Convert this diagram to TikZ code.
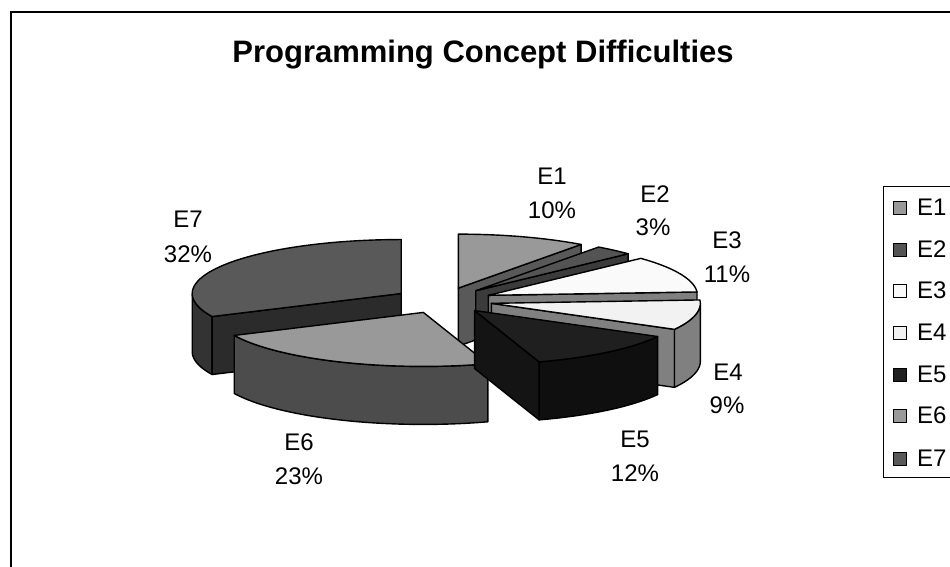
\documentclass[tikz,border=0pt]{standalone}
\usepackage{fontspec}
\setmainfont{Liberation Sans}
\newcommand{\pieCenter}[1]{%
  \pgfmathsetmacro\psx{\pcx+\pex*cos(#1)}%
  \pgfmathsetmacro\psy{\pcy-\pey*sin(#1)}}
\newcommand{\pieTop}[3]{%
  \draw[pieedge,fill=#3] (\psx,\psy) -- plot[domain=#1:#2,samples=60] ({\psx+\pra*cos(\x)},{\psy-\prb*sin(\x)}) -- cycle;}
\newcommand{\pieSide}[3]{%
  \draw[pieedge,fill=#3] plot[domain=#1:#2,samples=60] ({\psx+\pra*cos(\x)},{\psy-\prb*sin(\x)}) -- plot[domain=#2:#1,samples=60] ({\psx+\pra*cos(\x)},{\psy+\phh-\prb*sin(\x)}) -- cycle;}
\newcommand{\pieCut}[2]{%
  \draw[pieedge,fill=#2] (\psx,\psy) -- ({\psx+\pra*cos(#1)},{\psy-\prb*sin(#1)}) -- ++(0,\phh) -- (\psx,{\psy+\phh}) -- cycle;}
\begin{document}
\begin{tikzpicture}[x=1pt,y=-1pt]
\tikzset{
  pieedge/.style={draw=black,line width=1.4pt,line join=round},
  lbl/.style={font=\fontsize{24}{28}\selectfont,anchor=base,inner sep=0pt},
  legsq/.style={draw=black,line width=1.1pt,minimum size=13pt,inner sep=0pt,anchor=south west},
  legtxt/.style={font=\fontsize{24}{28}\selectfont,anchor=base west,inner sep=0pt}
}
\useasboundingbox (0,0) rectangle (950,567);
\fill[white] (0,0) rectangle (950,567);
% outer frame
\draw[line width=2pt] (960,12) -- (11,12) -- (11,580);
% title
\node[font=\fontsize{31}{37}\selectfont\bfseries,anchor=base,inner sep=0pt] (title) at (483,63) {Programming Concept Difficulties};
% pie parameters
\pgfmathsetmacro\pcx{443}
\pgfmathsetmacro\pcy{300.5}
\pgfmathsetmacro\pra{209}
\pgfmathsetmacro\prb{54}
\pgfmathsetmacro\phh{58}
\pgfmathsetmacro\pex{49.5}
\pgfmathsetmacro\pey{13}
% E7
\pieCenter{147.6}
\pieSide{180}{205.2}{black!80}
\pieCut{205.2}{black!83}
\pieTop{90}{205.2}{black!65}
% E1
\pieCenter{72}
\pieCut{54}{black!65}
\pieTop{54}{90}{black!40}
% E2
\pieCenter{48.6}
\pieCut{43.2}{black!77}
\pieTop{43.2}{54}{black!67}
% E3
\pieCenter{23.4}
\pieCut{3.6}{black!50}
\pieTop{3.6}{43.2}{black!2}
% E4
\pieCenter{-12.6}
\pieCut{-28.8}{black!50}
\pieSide{-28.8}{0}{black!50}
\pieTop{-28.8}{3.6}{black!5}
% E6
\pieCenter{-113.4}
\pieSide{-154.8}{-72}{black!70}
\pieTop{-154.8}{-72}{black!40}
% E5
\pieCenter{-50.4}
\pieSide{-72}{-28.8}{black!94}
\pieCut{-72}{black!92}
\pieTop{-72}{-28.8}{black!88}
% data labels
\node[lbl] (l1a) at (552,184) {E1};
\node[lbl] (l1b) at (552,218) {10\%};
\node[lbl] (l2a) at (655,202) {E2};
\node[lbl] (l2b) at (653,235) {3\%};
\node[lbl] (l3a) at (727,248) {E3};
\node[lbl] (l3b) at (727,282) {11\%};
\node[lbl] (l4a) at (728,380) {E4};
\node[lbl] (l4b) at (727,413) {9\%};
\node[lbl] (l5a) at (635,447) {E5};
\node[lbl] (l5b) at (635,481) {12\%};
\node[lbl] (l6a) at (299,450) {E6};
\node[lbl] (l6b) at (299,484) {23\%};
\node[lbl] (l7a) at (188,227) {E7};
\node[lbl] (l7b) at (188,262) {32\%};
% legend
\draw[line width=1pt] (960,186) -- (883,186) -- (883,477) -- (960,477);
\node[legsq,fill=black!40] (s1) at (893,215) {};
\node[legtxt] (t1) at (917,215) {E1};
\node[legsq,fill=black!67] (s2) at (893,257) {};
\node[legtxt] (t2) at (917,257) {E2};
\node[legsq,fill=black!2] (s3) at (893,298) {};
\node[legtxt] (t3) at (917,298) {E3};
\node[legsq,fill=black!5] (s4) at (893,340) {};
\node[legtxt] (t4) at (917,340) {E4};
\node[legsq,fill=black!88] (s5) at (893,382) {};
\node[legtxt] (t5) at (917,382) {E5};
\node[legsq,fill=black!40] (s6) at (893,423) {};
\node[legtxt] (t6) at (917,423) {E6};
\node[legsq,fill=black!65] (s7) at (893,466) {};
\node[legtxt] (t7) at (917,466) {E7};
\end{tikzpicture}
\end{document}
